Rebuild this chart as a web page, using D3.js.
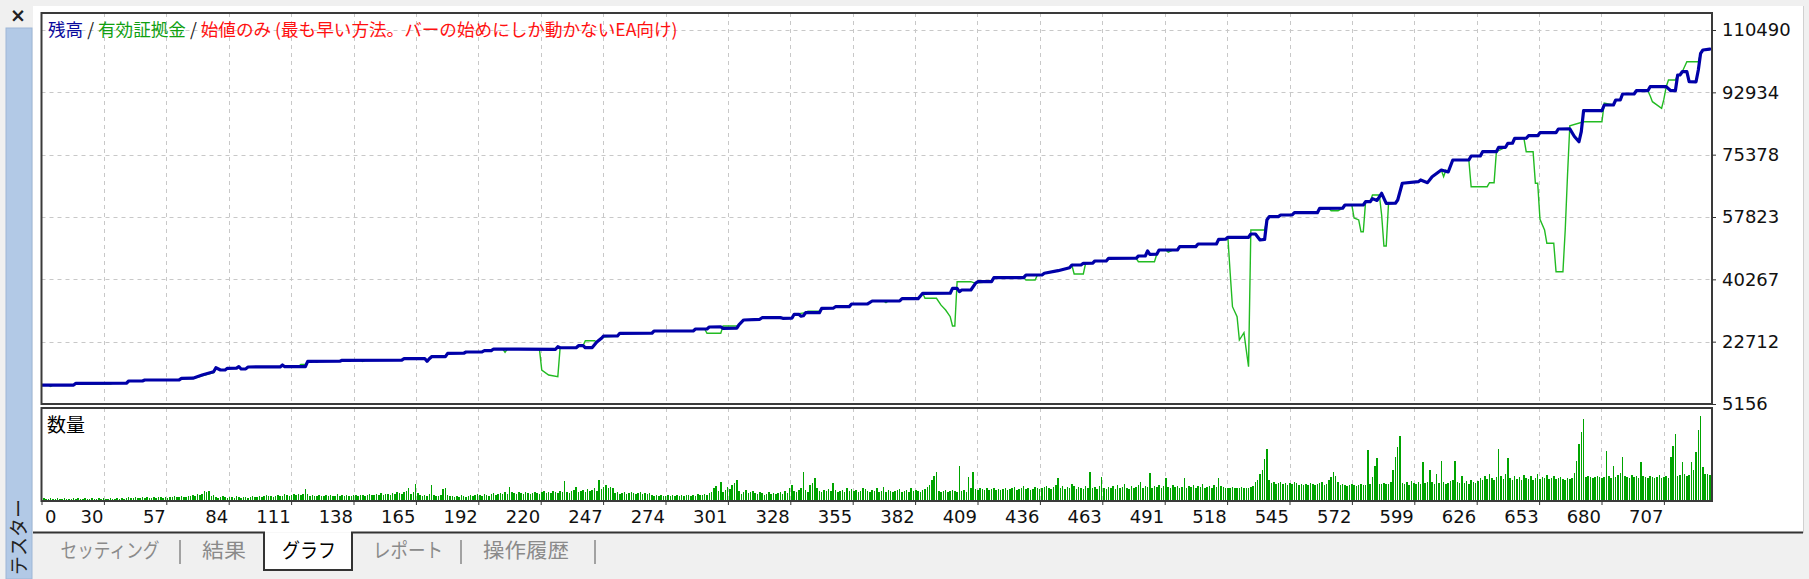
<!DOCTYPE html>
<html><head><meta charset="utf-8">
<script src="https://cdn.jsdelivr.net/npm/d3@7"></script>
<style>
html,body{margin:0;padding:0;background:#f0f0f0;overflow:hidden}
svg{display:block}
</style></head>
<body>
<svg id="c" width="1809" height="579"></svg>
<script>
// ---------------- DATA ----------------
const xTickLabels = [0,30,57,84,111,138,165,192,220,247,274,301,328,355,382,409,436,463,491,518,545,572,599,626,653,680,707];
const yTickLabels = [5156,22712,40267,57823,75378,92934,110490];
const lastLabeledTrade = 707;

// balance: [trade #, balance]
const balance = [
[0,10450],[14,10500],[15,10990],[37,11000],[38,11630],[44,11640],[45,11920],[60,11950],[61,12390],[66,12420],[70,13300],[75,14250],[76,15380],[78,14730],[80,14750],[81,15210],[85,15250],[86,15700],[87,15010],[89,15050],[90,15580],[104,15600],[105,16140],[106,15660],[115,15700],[116,17180],[130,17200],[131,17460],[157,17500],[158,17910],[167,17950],[168,17180],[169,17900],[170,18480],[176,18500],[177,19440],[184,19460],[185,19800],[192,19820],[193,20170],[196,20200],[197,20650],[208,20600],[224,20560],[225,21290],[226,21000],[233,21010],[234,21580],[236,21600],[237,21010],[240,21050],[242,22600],[244,23660],[245,24310],[251,24320],[252,25070],[266,25080],[267,25720],[284,25730],[285,26280],[290,26300],[291,26840],[296,26850],[297,26480],[303,26500],[304,27500],[306,28820],[313,29010],[314,29460],[322,29480],[323,29290],[327,29300],[328,30420],[330,30430],[331,29900],[332,30000],[333,30870],[339,30880],[340,32110],[345,32120],[346,32560],[352,32570],[353,33320],[360,33330],[362,34170],[374,34180],[375,34810],[382,34820],[384,36340],[396,36360],[397,37740],[399,37740],[400,36790],[401,37260],[405,37270],[407,39150],[408,39600],[414,39610],[415,40730],[424,40740],[428,40750],[429,41490],[436,41500],[437,41970],[443,42700],[448,43540],[449,44300],[453,44310],[454,44780],[458,44790],[459,45430],[464,45440],[465,46190],[477,46200],[478,46840],[481,46850],[482,48250],[483,47320],[486,47330],[487,48530],[495,48540],[496,49460],[503,49470],[504,50220],[512,50230],[513,51540],[516,51550],[517,52100],[526,52110],[527,53040],[529,53040],[531,51350],[533,51500],[534,56980],[535,57910],[539,57920],[540,58390],[545,58400],[546,59040],[556,59050],[557,60280],[567,60290],[568,61200],[576,61210],[577,62130],[579,62140],[580,63000],[582,62500],[584,64500],[586,61680],[590,61700],[591,62610],[593,67320],[600,67770],[601,68250],[604,67500],[606,69170],[610,71060],[613,70500],[615,73880],[622,73880],[623,75000],[627,75010],[628,76210],[634,76220],[635,77450],[638,77460],[639,78580],[641,78590],[642,79990],[647,80000],[648,80720],[652,80730],[653,81570],[660,81580],[661,82610],[666,82620],[668,80500],[670,79030],[671,81850],[672,87760],[680,87770],[681,89370],[685,89380],[686,90770],[688,90780],[689,92460],[694,92470],[695,93390],[700,93400],[701,94520],[708,94530],[710,93400],[712,93390],[713,97810],[714,97820],[715,98740],[717,98750],[718,95930],[721,95900],[722,99220],[723,103930],[724,104860],[727,105100]
];

// equity: [trade #, equity]
const equity = [
[0,10450],[3,10450],[4,10100],[5,10450],[14,10500],[15,10990],[16,10700],[30,10750],[31,10990],[37,11000],[38,11630],[44,11640],[45,11920],[60,11950],[61,12390],[66,12300],[70,13100],[75,14000],[76,15300],[78,14730],[80,14750],[81,15210],[85,15250],[86,15700],[87,15010],[89,15050],[90,15580],[104,15600],[105,16140],[106,15660],[112,15700],[113,16300],[115,16300],[116,17180],[119,17180],[120,16900],[121,17200],[130,17200],[131,17460],[139,17470],[140,17150],[141,17470],[157,17500],[158,17910],[164,17950],[165,18200],[167,17950],[168,17180],[169,17900],[170,18700],[176,18700],[177,19440],[184,19460],[185,19800],[192,19820],[193,20170],[196,20200],[197,20650],[201,20650],[202,19700],[203,20650],[208,20600],[217,20560],[218,14730],[221,13320],[225,12850],[226,21000],[233,21010],[234,21300],[236,21600],[237,22980],[241,22980],[242,22600],[244,23660],[245,24000],[251,24320],[252,25070],[266,25080],[267,25720],[284,25730],[285,26280],[289,26300],[290,25070],[296,25070],[297,27125],[303,27125],[304,27500],[306,28820],[313,29010],[314,29460],[322,29480],[323,29290],[327,29300],[328,30420],[333,30870],[334,31300],[339,31300],[340,32110],[345,32120],[346,32560],[352,32570],[353,33320],[360,33330],[362,34170],[367,34170],[368,33700],[369,34170],[374,34180],[375,34810],[382,34820],[384,36340],[385,34930],[390,34930],[392,33000],[394,31630],[396,29740],[397,27125],[398,27125],[399,39600],[405,39600],[407,39150],[408,39300],[414,39610],[415,40730],[424,40740],[428,40750],[429,40080],[433,40080],[434,41490],[436,41500],[437,41970],[443,42700],[448,43540],[449,44300],[450,41770],[454,41770],[455,44780],[458,44790],[459,45430],[464,45440],[465,46190],[477,46200],[478,45230],[485,45230],[486,47330],[487,48530],[490,48530],[491,47900],[493,48530],[495,48540],[496,49460],[503,49470],[504,50220],[512,50230],[513,51540],[516,51550],[517,52100],[518,41970],[519,32560],[521,29750],[522,23180],[524,25240],[525,20370],[526,15660],[527,54160],[533,54160],[534,56980],[535,57910],[539,57920],[540,58390],[545,58400],[546,59040],[556,59050],[557,60280],[561,60280],[562,59600],[565,59600],[567,60290],[568,61200],[571,61210],[572,57540],[574,57000],[575,53690],[576,53690],[577,62130],[579,62140],[580,64020],[583,64020],[584,58390],[585,49660],[586,49660],[587,61680],[590,61700],[591,62610],[593,67320],[600,67770],[601,68250],[604,67500],[606,69170],[610,71060],[611,69180],[612,71000],[613,70500],[615,73880],[622,73880],[623,66360],[630,66360],[631,67490],[633,67490],[634,76220],[638,77460],[639,78580],[641,78590],[642,79990],[646,80000],[647,76220],[650,76220],[651,67320],[652,67320],[653,57180],[655,54160],[656,50420],[659,50420],[660,42420],[663,42420],[664,54160],[665,69650],[666,83520],[672,84650],[680,84650],[681,89930],[685,89380],[686,90770],[688,90780],[689,92460],[694,92470],[695,93390],[700,93400],[701,92000],[702,90300],[706,88440],[707,91000],[708,94530],[709,96410],[712,96410],[713,97810],[714,97820],[715,98740],[717,101560],[722,101560],[723,103930],[724,104860],[727,105100]
];

// volume per trade (units of 0.01 lot)
const volume = [
1,2,1,1,2,1,1,2,1,1,2,1,1,1,2,1,2,1,1,2,
1,1,2,1,1,2,1,2,1,1,2,1,1,2,1,2,1,2,3,2,
2,3,2,2,3,2,3,2,2,3,2,3,3,2,3,2,3,3,4,3,
3,4,3,3,4,4,5,4,6,5,6,9,8,9,4,5,3,2,3,4,
3,2,3,3,2,4,3,2,3,3,2,3,4,3,3,4,3,4,5,4,
4,3,4,5,4,4,6,5,4,5,6,5,6,5,6,11,6,4,5,4,
4,5,4,4,5,4,5,4,4,6,4,5,4,5,4,4,5,5,4,5,
5,4,5,6,5,5,6,5,7,5,6,6,5,7,6,8,7,6,8,9,
12,6,8,16,7,5,4,5,4,6,15,5,4,4,5,11,12,5,4,4,
3,4,3,5,4,3,4,5,4,5,6,5,4,6,5,4,6,7,5,6,
7,6,8,6,13,8,7,6,8,7,6,8,7,6,7,8,7,6,8,9,
7,8,7,9,8,7,9,8,19,8,7,9,10,13,8,9,10,8,11,9,
10,12,9,20,11,13,15,12,13,12,7,8,6,7,8,6,7,8,7,6,
7,8,6,7,6,7,5,4,5,4,5,4,4,5,4,5,4,5,4,5,
4,5,5,4,5,4,6,5,5,6,5,7,8,12,14,9,18,8,10,13,
11,15,17,20,9,6,8,10,7,8,9,7,6,8,7,5,6,8,6,7,
6,7,8,6,9,7,12,15,9,8,10,12,28,10,8,15,17,22,12,9,
8,10,9,11,9,17,10,8,9,10,8,12,9,11,9,10,8,9,12,11,
9,8,10,9,12,8,9,13,8,10,9,8,9,10,11,8,9,10,8,12,
9,10,9,8,10,11,13,15,20,24,28,9,8,9,10,8,9,10,9,8,
34,9,10,8,23,12,28,11,10,12,11,10,12,10,11,12,10,11,10,11,
12,10,11,12,13,10,11,12,14,11,12,10,11,13,12,11,12,13,14,12,
11,13,15,22,12,14,11,13,12,16,14,11,13,12,11,14,12,28,12,13,
11,14,23,12,11,13,12,14,11,15,12,13,16,12,11,14,12,13,15,18,
12,14,13,27,12,14,13,15,12,14,22,13,12,15,13,14,12,13,22,12,
14,13,15,12,14,13,16,12,13,14,12,15,13,22,14,13,12,12,12,13,
12,12,12,13,12,12,12,13,14,18,20,26,30,41,51,20,17,18,16,17,
18,16,17,15,17,16,18,17,15,16,15,16,15,17,16,15,16,17,18,15,
16,20,23,28,24,18,15,16,15,14,15,16,15,14,15,16,15,15,50,16,
23,34,42,16,16,17,16,16,18,30,43,53,64,17,16,18,15,19,17,16,
18,16,38,17,18,30,18,16,26,17,39,18,16,17,19,20,39,18,17,24,
17,19,16,20,18,17,19,22,20,24,21,26,22,20,23,51,24,21,26,42,
22,20,24,21,23,20,25,22,21,24,20,22,26,21,23,22,25,21,22,24,
21,22,23,21,20,22,21,22,27,39,56,68,81,23,24,23,22,23,24,23,
22,23,49,24,22,34,23,25,27,43,24,23,22,25,23,24,22,38,24,23,
22,24,23,22,23,25,22,23,24,22,43,54,66,24,25,38,26,24,25,38,
30,48,70,84,33,26,26,25
];

const titleParts = [
  {text:"残高", color:"#0a0a9c"},
  {text:" / ", color:"#222"},
  {text:"有効証拠金", color:"#10a010"},
  {text:" / ", color:"#222"},
  {text:"始値のみ (最も早い方法。バーの始めにしか動かないEA向け)", color:"#ff1010"}
];
const volumeLabel = "数量";
const tabs = [
  {text:"セッティング", cx:110, w:99, active:false},
  {text:"結果", cx:224, w:44, active:false},
  {text:"グラフ", cx:309, w:54, active:true},
  {text:"レポート", cx:408, w:70, active:false},
  {text:"操作履歴", cx:526, w:86, active:false}
];
const tabSeparators = [180, 461, 595];
const sideTitle = "テスター";

// ---------------- LAYOUT ----------------
const L = 41.5, R = 1712;
const mainTop = 13, mainBottom = 404;
const volTop = 408, volBottom = 501;
const gridStep = 62.4;
const JP = "'Noto Sans CJK JP','Noto Sans',sans-serif";
const NUM = "'DejaVu Sans',sans-serif";

const svg = d3.select("#c");

// scales
const xGrid = d3.scaleLinear().domain([0, xTickLabels.length-1]).range([L, L + gridStep*(xTickLabels.length-1)]);
const xTrade = d3.scaleLinear().domain([0, lastLabeledTrade]).range([L, L + gridStep*(xTickLabels.length-1)]);
const yMain = d3.scaleLinear().domain([yTickLabels[0], yTickLabels[yTickLabels.length-1]]).range([mainBottom, 30]);
const yVol = d3.scaleLinear().domain([0, 92]).range([volBottom-1, volTop]);

// window chrome
svg.append("rect").attr("x",0).attr("y",0).attr("width",1809).attr("height",579).attr("fill","#f0f0f0");
svg.append("rect").attr("x",33).attr("y",6).attr("width",1770).attr("height",526).attr("fill","#ffffff");
svg.append("line").attr("x1",1803.5).attr("x2",1803.5).attr("y1",6).attr("y2",533).attr("stroke","#d0d0d0");
svg.append("rect").attr("x",6).attr("y",28).attr("width",26).attr("height",551).attr("fill","#b2c9e6").attr("stroke","#9db6d6");
svg.append("text").attr("x",18).attr("y",22).attr("text-anchor","middle")
  .style("font-family",NUM).style("font-size","19px").style("font-weight","bold").attr("fill","#222").text("×");
svg.append("text").attr("transform","translate(26,537) rotate(-90)").attr("text-anchor","middle")
  .style("font-family",JP).style("font-size","19px").attr("fill","#222").text(sideTitle);

// tab bar
const tabL = 264, tabR = 352, tabLine = 532.5, tabBot = 570;
svg.append("rect").attr("x",tabL).attr("y",tabLine).attr("width",tabR-tabL).attr("height",tabBot-tabLine).attr("fill","#fff");
svg.append("path").attr("fill","none").attr("stroke","#333").attr("stroke-width",2)
  .attr("d",`M33,${tabLine}H${tabL}V${tabBot}H${tabR}V${tabLine}H1803`);
tabs.forEach(t=>{
  svg.append("text").attr("x",t.cx).attr("y",558).attr("text-anchor","middle")
    .attr("textLength",t.w).attr("lengthAdjust","spacingAndGlyphs")
    .style("font-family",JP).style("font-size","20px")
    .attr("fill", t.active ? "#000" : "#8a8a8a").text(t.text);
});
tabSeparators.forEach(x=>{
  svg.append("line").attr("x1",x).attr("x2",x).attr("y1",540).attr("y2",564).attr("stroke","#888").attr("stroke-width",1.5);
});

// grid
const grid = svg.append("g");
d3.range(1, xTickLabels.length).forEach(k=>{
  const x = Math.round(xGrid(k))+0.5;
  grid.append("line").attr("x1",x).attr("x2",x).attr("y1",mainTop).attr("y2",mainBottom)
    .attr("stroke","#c8c8c8").attr("stroke-dasharray","4,4");
  grid.append("line").attr("x1",x).attr("x2",x).attr("y1",volTop).attr("y2",volBottom)
    .attr("stroke","#c8c8c8").attr("stroke-dasharray","4,4");
});
yTickLabels.slice(1).forEach(v=>{
  const y = Math.round(yMain(v))+0.5;
  grid.append("line").attr("x1",L).attr("x2",R).attr("y1",y).attr("y2",y)
    .attr("stroke","#c8c8c8").attr("stroke-dasharray","4,4");
});

// title
const title = svg.append("text").attr("x",48).attr("y",36).style("font-family",JP).style("font-size","17.6px");
titleParts.forEach(p=> title.append("tspan").attr("fill",p.color).text(p.text));

// clip
svg.append("clipPath").attr("id","mc").append("rect").attr("x",L).attr("y",mainTop).attr("width",R-L).attr("height",mainBottom-mainTop);

const line = d3.line().x(d=>xTrade(d[0])).y(d=>yMain(d[1]));
svg.append("path").datum(equity).attr("clip-path","url(#mc)").attr("fill","none")
  .attr("stroke","#22bb22").attr("stroke-width",1.4).attr("d",line);
svg.append("path").datum(balance).attr("clip-path","url(#mc)").attr("fill","none")
  .attr("stroke","#0000a8").attr("stroke-width",3.2).attr("stroke-linejoin","round").attr("stroke-linecap","round").attr("d",line);

// volume bars
svg.append("g").attr("shape-rendering","crispEdges").selectAll("line").data(volume).join("line")
  .attr("x1",(d,i)=>xTrade(i)).attr("x2",(d,i)=>xTrade(i))
  .attr("y1",yVol(0)).attr("y2",d=>yVol(d))
  .attr("stroke","#00a400").attr("stroke-width",1.5);

svg.append("text").attr("x",47).attr("y",432).style("font-family",JP).style("font-size","19px").attr("fill","#000").text(volumeLabel);

// frames
svg.append("rect").attr("x",L).attr("y",mainTop).attr("width",R-L).attr("height",mainBottom-mainTop)
  .attr("fill","none").attr("stroke","#3a3a3a").attr("stroke-width",2);
svg.append("rect").attr("x",L).attr("y",volTop).attr("width",R-L).attr("height",volBottom-volTop)
  .attr("fill","none").attr("stroke","#3a3a3a").attr("stroke-width",2);

// right axis
const yAxis = svg.append("g").attr("transform",`translate(${R},0)`)
  .call(d3.axisRight(yMain).tickValues(yTickLabels).tickSize(4).tickPadding(6).tickFormat(d=>String(d)));
yAxis.select(".domain").remove();
yAxis.selectAll("line").attr("stroke","#333");
yAxis.selectAll("text").style("font-family",NUM).style("font-size","18px").attr("fill","#111");

// bottom axis
const xAxis = svg.append("g").attr("transform",`translate(0,${volBottom})`)
  .call(d3.axisBottom(xGrid).tickValues(d3.range(xTickLabels.length)).tickSize(4).tickPadding(5).tickFormat(i=>String(xTickLabels[i])));
xAxis.select(".domain").remove();
xAxis.selectAll("line").attr("stroke","#333");
xAxis.selectAll("text").style("font-family",NUM).style("font-size","18px").attr("fill","#111")
  .attr("text-anchor", d=> d===0 ? "start" : "end").attr("x", d=> d===0 ? 3 : -1);
</script>
</body></html>
